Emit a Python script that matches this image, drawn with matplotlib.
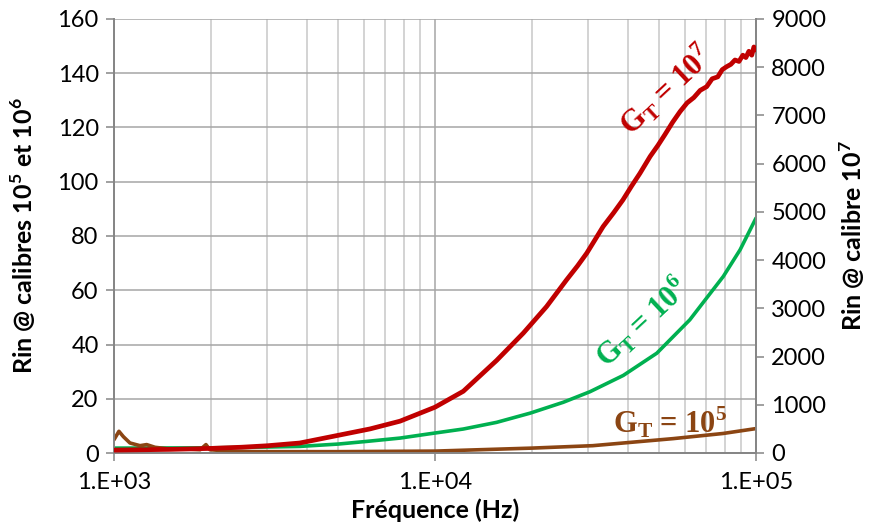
import matplotlib
matplotlib.use("Agg")
import matplotlib.pyplot as plt
from matplotlib.ticker import FixedLocator, FixedFormatter, LogLocator, NullFormatter

# ---------------- data ----------------
red_f = [1000, 1500, 2000, 2500, 3000, 3790, 4810, 6280, 7780, 10000, 12250,
         15560, 18840, 22270, 25700, 27800, 29700, 31500, 33400, 36000, 38500,
         41000, 43500, 46800, 49500, 52000, 55000, 58000, 61000, 64000, 67000, 70200,
         73000, 76000, 78500, 81000, 83500, 86000, 88500, 91000, 93000, 95000, 97000,
         98500, 100000]
red_v = [60, 75, 95, 120, 150, 207, 345, 500, 660, 950, 1280,
         1920, 2486, 3038, 3591, 3880, 4144, 4420, 4696, 4980, 5249,
         5540, 5800, 6150, 6380, 6600, 6860, 7080, 7260, 7370, 7520, 7597,
         7760, 7800, 7950, 8011, 8060, 8150, 8120, 8250, 8200, 8330, 8250,
         8420, 8357]

green_f = [1000, 2000, 3000, 3790, 5000, 6120, 7780, 9640, 12250, 15560, 19800,
           25100, 30400, 38600, 49100, 62200, 79100, 89200, 100000]
green_v = [1.8, 1.9, 2.2, 2.43, 3.3, 4.27, 5.5, 7.1, 8.84, 11.3, 14.7,
           18.7, 22.6, 28.6, 36.8, 49.1, 65.1, 74.9, 86.6]

brown_f = [1000, 1036, 1070, 1121, 1205, 1264, 1342, 1460, 1683, 1855, 1934, 1990,
           2350, 3000, 5000, 10000, 20000, 31000, 55200, 79000, 100000]
brown_v = [4.9, 8.0, 6.0, 3.7, 2.7, 3.1, 2.1, 1.6, 1.5, 1.2, 3.1, 1.2,
           0.6, 0.5, 0.5, 0.7, 1.8, 2.7, 5.3, 7.2, 9.0]

x_ticks = [1e3, 1e4, 1e5]
x_ticklabels = ["1.E+03", "1.E+04", "1.E+05"]
left_ticks = [0, 20, 40, 60, 80, 100, 120, 140, 160]
right_ticks = [0, 1000, 2000, 3000, 4000, 5000, 6000, 7000, 8000, 9000]

# ---------------- style ----------------
SANS = "Lato"
SERIF = "Liberation Serif"
RED = "#C00000"
GREEN = "#00B050"
BROWN = "#8B4513"
SPINE = "#868686"

fig = plt.figure(figsize=(8.7, 5.28), dpi=100)
ax = fig.add_axes([114/870, 1-453/528, (756-114)/870, (453-19)/528])
ax2 = ax.twinx()

ax.set_xscale("log")
ax.set_xlim(1e3, 1e5)
ax.set_ylim(0, 160)
ax2.set_ylim(0, 9000)

ax.xaxis.set_major_locator(FixedLocator(x_ticks))
ax.xaxis.set_major_formatter(FixedFormatter(x_ticklabels))
ax.xaxis.set_minor_locator(LogLocator(base=10, subs=range(2, 10)))
ax.xaxis.set_minor_formatter(NullFormatter())
ax.set_yticks(left_ticks)
ax2.set_yticks(right_ticks)

ax.grid(True, which="major", axis="x", color="#a6a6a6", lw=1.1)
ax.grid(True, which="minor", axis="x", color="#c8c8c8", lw=1.1)
ax.grid(True, which="major", axis="y", color="#a6a6a6", lw=1.1)
ax.set_axisbelow(True)

for a in (ax, ax2):
    a.spines["top"].set_visible(False)
    for s in ("left", "right", "bottom"):
        a.spines[s].set_color(SPINE)
        a.spines[s].set_linewidth(1.3)

ax.tick_params(axis="both", which="major", length=6, width=1.1, color=SPINE,
               labelsize=17, pad=5)
ax.tick_params(axis="x", which="minor", length=0)
ax.tick_params(axis="x", which="major", pad=8)
ax2.tick_params(axis="y", which="major", length=6, width=1.1, color=SPINE,
                labelsize=17, pad=5)
for lbl in ax.get_xticklabels() + ax.get_yticklabels() + ax2.get_yticklabels():
    lbl.set_fontfamily(SANS)

# lines
ax.plot(green_f, green_v, color=GREEN, lw=2.6, solid_capstyle="round",
        solid_joinstyle="round", zorder=3)
ax.plot(brown_f, brown_v, color=BROWN, lw=2.6, solid_capstyle="round",
        solid_joinstyle="round", zorder=4)
ax2.plot(red_f, red_v, color=RED, lw=3.4, solid_capstyle="round",
         solid_joinstyle="round", zorder=5)

# axis labels
ax.set_xlabel("Fréquence (Hz)", fontfamily=SANS, fontweight="bold", fontsize=18)
ax.xaxis.set_label_coords(0.5, -0.105)
ax.set_ylabel("Rin @ calibres 10$^\\mathregular{5}$ et 10$^\\mathregular{6}$",
              fontfamily=SANS, fontweight="bold", fontsize=18)
ax.yaxis.set_label_coords(-0.118, 0.5)
ax2.set_ylabel("Rin @ calibre 10$^\\mathregular{7}$", fontfamily=SANS,
               fontweight="bold", fontsize=18)
ax2.yaxis.set_label_coords(1.127, 0.5)

# curve annotations
ax2.text(5.25e4, 7528, "G$_\\mathregular{T}$ = 10$^\\mathregular{7}$", color=RED,
         fontfamily=SERIF, fontweight="bold", fontsize=22, rotation=43,
         ha="center", va="center", rotation_mode="anchor")
ax.text(4.42e4, 48.4, "G$_\\mathregular{T}$ = 10$^\\mathregular{6}$", color=GREEN,
        fontfamily=SERIF, fontweight="bold", fontsize=22, rotation=43,
        ha="center", va="center", rotation_mode="anchor")
ax.text(5.4e4, 7.5, "G$_\\mathregular{T}$ = 10$^\\mathregular{5}$", color=BROWN,
        fontfamily=SERIF, fontweight="bold", fontsize=22, rotation=0,
        ha="center", va="baseline")

fig.savefig("out.png", dpi=100)
